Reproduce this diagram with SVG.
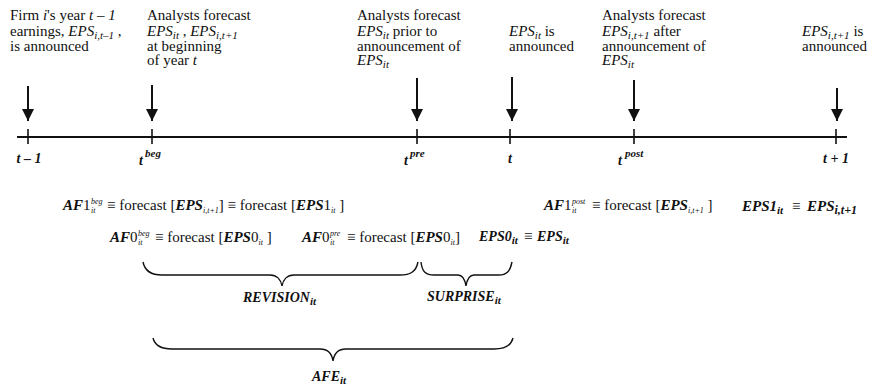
<svg xmlns="http://www.w3.org/2000/svg" width="875" height="387" viewBox="0 0 875 387">
<style>
text{font-family:"Liberation Serif","Times New Roman",serif;font-size:15px;fill:#111}
.i{font-style:italic}
.b{font-style:italic;font-weight:bold}
.s{font-size:11px}
.xs{font-size:8px;font-style:italic}
.up{font-style:normal;font-weight:normal}
.ln{stroke:#111;stroke-width:2;fill:none}
.tk{stroke:#111;stroke-width:1.6}
.br{stroke:#111;stroke-width:1.4;fill:none}
</style>
<defs>
<marker id="ah" viewBox="0 0 12 12" refX="12" refY="6" markerWidth="12" markerHeight="12" markerUnits="userSpaceOnUse" orient="auto">
<path d="M0,0 L12,6 L0,12 z" fill="#111"/>
</marker>
</defs>
<rect width="875" height="387" fill="#fff"/>

<!-- events -->
<g id="ev-t-1">
<text x="10" y="20">Firm <tspan class="i">i</tspan>'s year <tspan class="i">t – 1</tspan></text>
<text x="10" y="36">earnings, <tspan class="i">EPS</tspan><tspan class="i s" dy="3">i,t–1</tspan><tspan dy="-3"> ,</tspan></text>
<text x="10" y="51">is announced</text>
</g>
<g id="ev-beg">
<text x="147" y="20">Analysts forecast</text>
<text x="147" y="36"><tspan class="i">EPS</tspan><tspan class="i s" dy="3">it</tspan><tspan dy="-3"> , </tspan><tspan class="i">EPS</tspan><tspan class="i s" dy="3">i,t+1</tspan></text>
<text x="147" y="51">at beginning</text>
<text x="147" y="65">of  year <tspan class="i">t</tspan></text>
</g>
<g id="ev-pre">
<text x="357" y="20">Analysts forecast</text>
<text x="357" y="36"><tspan class="i">EPS</tspan><tspan class="i s" dy="3">it</tspan><tspan dy="-3">  prior to</tspan></text>
<text x="357" y="51">announcement of</text>
<text x="357" y="65"><tspan class="i">EPS</tspan><tspan class="i s" dy="3">it</tspan></text>
</g>
<g id="ev-t">
<text x="509" y="36"><tspan class="i">EPS</tspan><tspan class="i s" dy="3">it</tspan><tspan dy="-3">  is</tspan></text>
<text x="509" y="51">announced</text>
</g>
<g id="ev-post">
<text x="602" y="20">Analysts forecast</text>
<text x="602" y="36"><tspan class="i">EPS</tspan><tspan class="i s" dy="3">i,t+1</tspan><tspan dy="-3"> after</tspan></text>
<text x="602" y="51">announcement of</text>
<text x="602" y="65"><tspan class="i">EPS</tspan><tspan class="i s" dy="3">it</tspan></text>
</g>
<g id="ev-t1">
<text x="802" y="36"><tspan class="i">EPS</tspan><tspan class="i s" dy="3">i,t+1</tspan><tspan dy="-3"> is</tspan></text>
<text x="802" y="51">announced</text>
</g>

<!-- timeline -->
<g id="timeline">
<line class="ln" x1="17" y1="137" x2="847" y2="137"/>
<line class="tk" x1="28" y1="129" x2="28" y2="144"/>
<line class="tk" x1="152" y1="129" x2="152" y2="144"/>
<line class="tk" x1="417" y1="129" x2="417" y2="144"/>
<line class="tk" x1="510" y1="129" x2="510" y2="144"/>
<line class="tk" x1="634" y1="129" x2="634" y2="144"/>
<line class="tk" x1="836" y1="129" x2="836" y2="144"/>
<text class="b" x="29" y="163" text-anchor="middle" style="font-size:14px">t – 1</text>
<text class="b" x="139" y="165" style="font-size:14px">t</text><text class="b s" x="145" y="157">beg</text>
<text class="b" x="404" y="165" style="font-size:14px">t</text><text class="b s" x="410" y="157">pre</text>
<text class="b" x="510" y="163" text-anchor="middle" style="font-size:14px">t</text>
<text class="b" x="618" y="165" style="font-size:14px">t</text><text class="b s" x="625" y="157">post</text>
<text class="b" x="836" y="163" text-anchor="middle" style="font-size:14px">t + 1</text>
</g>

<!-- connectors -->
<g id="connectors">
<line class="ln" x1="28" y1="86" x2="28" y2="121" marker-end="url(#ah)"/>
<line class="ln" x1="152" y1="85" x2="152" y2="121" marker-end="url(#ah)"/>
<line class="ln" x1="417" y1="78" x2="417" y2="121" marker-end="url(#ah)"/>
<line class="ln" x1="512" y1="77" x2="512" y2="121" marker-end="url(#ah)"/>
<line class="ln" x1="634" y1="80" x2="634" y2="121" marker-end="url(#ah)"/>
<line class="ln" x1="837" y1="88" x2="837" y2="121" marker-end="url(#ah)"/>
</g>

<!-- definitions -->
<g id="def-af1beg">
<text class="b" x="63" y="210">AF<tspan class="up">1</tspan></text>
<text class="xs" x="91" y="204">beg</text><text class="xs" x="91" y="213">it</text>
<text x="107" y="210">≡ forecast [<tspan class="b">EPS</tspan><tspan class="xs" dy="3">i,t+1</tspan><tspan dy="-3">] ≡ forecast [</tspan><tspan class="b">EPS</tspan><tspan>1</tspan><tspan class="xs" dy="3">it</tspan><tspan dy="-3"> ]</tspan></text>
</g>
<g id="def-af1post">
<text class="b" x="544" y="210">AF<tspan class="up">1</tspan></text>
<text class="xs" x="572" y="204">post</text><text class="xs" x="572" y="213">it</text>
<text x="592" y="210">≡ forecast [<tspan class="b">EPS</tspan><tspan class="xs" dy="3">i,t+1</tspan><tspan dy="-3"> ]</tspan></text>
</g>
<g id="def-eps1">
<text class="b" x="742" y="211">EPS1<tspan class="s" dy="3">it</tspan></text>
<text x="792" y="211">≡</text>
<text class="b" x="807" y="211">EPS<tspan class="s" dy="3" style="font-size:12px">i,t+1</tspan></text>
</g>
<g id="def-af0beg">
<text class="b" x="110" y="242">AF<tspan class="up">0</tspan></text>
<text class="xs" x="138" y="236">beg</text><text class="xs" x="138" y="245">it</text>
<text x="155" y="242">≡ forecast [<tspan class="b">EPS</tspan><tspan>0</tspan><tspan class="xs" dy="3">it</tspan><tspan dy="-3"> ]</tspan></text>
</g>
<g id="def-af0pre">
<text class="b" x="302" y="242">AF<tspan class="up">0</tspan></text>
<text class="xs" x="330" y="236">pre</text><text class="xs" x="330" y="245">it</text>
<text x="347" y="242">≡ forecast [<tspan class="b">EPS</tspan><tspan>0</tspan><tspan class="xs" dy="3">it</tspan><tspan dy="-3">]</tspan></text>
</g>
<g id="def-eps0">
<text class="b" x="479" y="241" style="font-size:14px">EPS0<tspan class="s" dy="3">it</tspan></text>
<text x="524" y="241">≡</text>
<text class="b" x="537" y="241" style="font-size:14px">EPS<tspan class="s" dy="3">it</tspan></text>
</g>

<!-- braces -->
<g id="revision">
<path class="br" d="M143,262 C145,272 152,275 162,275 L270,275 C277,275 281,280 282,286 C283,280 287,275 294,275 L400,275 C410,275 416,272 418,262"/>
<text x="243" y="302" style="font-size:14px"><tspan class="b">REVISION</tspan><tspan class="b s" dy="3">it</tspan></text>
</g>
<g id="surprise">
<path class="br" d="M421,262 C422,272 426,275 434,275 L458,275 C463,275 465,280 466,286 C467,280 469,275 474,275 L499,275 C506,275 510,272 512,262"/>
<text x="427" y="301" style="font-size:14px"><tspan class="b">SURPRISE</tspan><tspan class="b s" dy="3">it</tspan></text>
</g>
<g id="afe">
<path class="br" d="M153,338 C155,346 162,349 172,349 L320,349 C328,349 332,354 333,361 C334,354 338,349 346,349 L494,349 C504,349 511,346 513,338"/>
<text x="312" y="381" style="font-size:14px"><tspan class="b">AFE</tspan><tspan class="b s" dy="3">it</tspan></text>
</g>
</svg>
